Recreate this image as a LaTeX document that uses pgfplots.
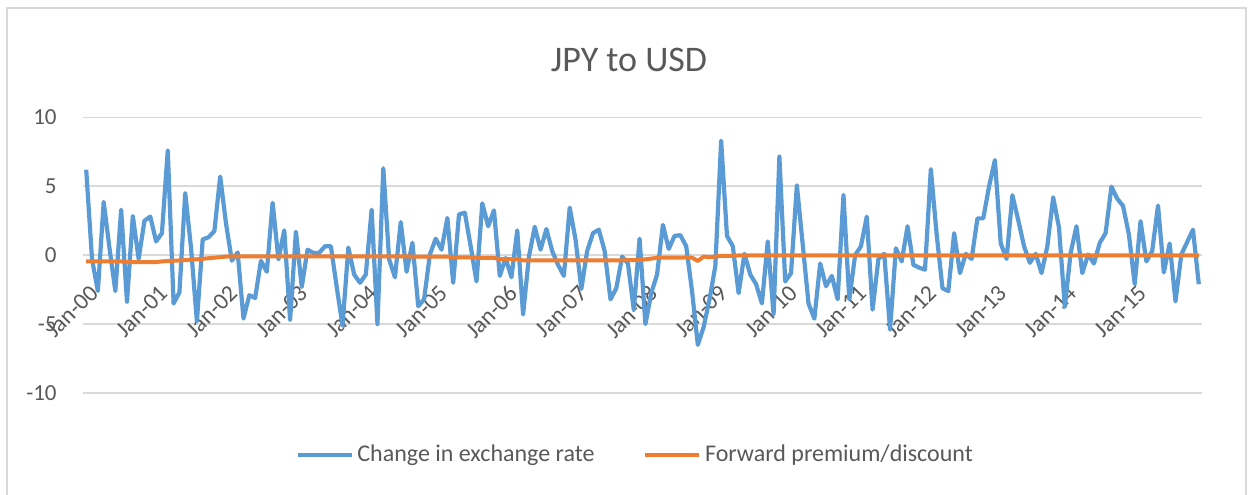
\documentclass[border=0pt]{standalone}
\usepackage{pgfplots}
\pgfplotsset{compat=1.18}
\usepackage{pgfplotstable}
\usepackage{fontspec}
\setmainfont{Carlito}
\definecolor{sblue}{HTML}{5B9BD5}
\definecolor{sorange}{HTML}{ED7D31}
\definecolor{gridgray}{HTML}{D9D9D9}
\definecolor{textgray}{HTML}{595959}
\pgfplotstableread{
i d f
0 6.2 -0.45
1 -0.3 -0.45
2 -2.6 -0.45
3 3.86 -0.45
4 0.5 -0.45
5 -2.6 -0.45
6 3.3 -0.45
7 -3.4 -0.5
8 2.84 -0.5
9 -0.27 -0.5
10 2.5 -0.5
11 2.8 -0.5
12 1.0 -0.5
13 1.6 -0.45
14 7.6 -0.42
15 -3.5 -0.4
16 -2.7 -0.38
17 4.5 -0.36
18 0.5 -0.32
19 -4.8 -0.3
20 1.15 -0.26
21 1.3 -0.22
22 1.75 -0.18
23 5.7 -0.14
24 2.3 -0.1
25 -0.4 -0.08
26 0.2 -0.08
27 -4.6 -0.08
28 -2.9 -0.08
29 -3.1 -0.08
30 -0.4 -0.08
31 -1.2 -0.08
32 3.8 -0.08
33 -0.3 -0.08
34 1.8 -0.08
35 -4.7 -0.08
36 1.7 -0.08
37 -2.3 -0.08
38 0.4 -0.08
39 0.17 -0.08
40 0.17 -0.08
41 0.65 -0.08
42 0.65 -0.08
43 -2.3 -0.08
44 -5.1 -0.08
45 0.55 -0.08
46 -1.4 -0.08
47 -2.0 -0.08
48 -1.4 -0.08
49 3.3 -0.08
50 -5.0 -0.08
51 6.3 -0.08
52 -0.3 -0.08
53 -1.6 -0.08
54 2.4 -0.08
55 -1.2 -0.08
56 0.9 -0.1
57 -3.7 -0.1
58 -3.2 -0.1
59 0.05 -0.1
60 1.2 -0.1
61 0.4 -0.1
62 2.7 -0.1
63 -2.0 -0.15
64 2.96 -0.15
65 3.08 -0.15
66 0.65 -0.15
67 -1.9 -0.2
68 3.76 -0.2
69 2.1 -0.2
70 3.25 -0.2
71 -1.5 -0.28
72 -0.2 -0.28
73 -1.6 -0.28
74 1.8 -0.28
75 -4.3 -0.38
76 -0.1 -0.38
77 2.06 -0.38
78 0.4 -0.38
79 1.9 -0.38
80 0.3 -0.38
81 -0.7 -0.38
82 -1.5 -0.38
83 3.45 -0.38
84 1.15 -0.38
85 -2.45 -0.38
86 0.3 -0.38
87 1.6 -0.38
88 1.85 -0.38
89 0.3 -0.38
90 -3.2 -0.38
91 -2.4 -0.38
92 -0.1 -0.38
93 -0.6 -0.35
94 -3.95 -0.35
95 1.2 -0.35
96 -5.0 -0.3
97 -2.75 -0.25
98 -1.4 -0.18
99 2.2 -0.18
100 0.46 -0.18
101 1.4 -0.18
102 1.45 -0.18
103 0.65 -0.16
104 -2.6 -0.18
105 -6.5 -0.42
106 -5.2 -0.1
107 -3.2 -0.15
108 -0.8 -0.1
109 8.3 -0.05
110 1.4 -0.05
111 0.65 -0.05
112 -2.75 -0.02
113 0.1 -0.02
114 -1.4 -0.02
115 -2.1 -0.02
116 -3.5 -0.02
117 1.0 -0.02
118 -4.3 -0.02
119 7.15 -0.02
120 -1.9 -0.02
121 -1.3 -0.02
122 5.07 -0.02
123 0.8 -0.02
124 -3.5 -0.02
125 -4.6 -0.02
126 -0.6 -0.02
127 -2.25 -0.02
128 -1.5 -0.02
129 -3.2 -0.02
130 4.37 -0.02
131 -3.2 -0.02
132 0.0 -0.02
133 0.65 -0.02
134 2.8 -0.02
135 -3.95 -0.02
136 -0.27 -0.02
137 0.1 -0.02
138 -5.4 -0.02
139 0.5 -0.02
140 -0.45 -0.02
141 2.1 -0.02
142 -0.7 -0.02
143 -0.9 -0.02
144 -1.05 -0.02
145 6.24 -0.02
146 1.5 -0.02
147 -2.4 -0.02
148 -2.6 -0.02
149 1.6 -0.02
150 -1.3 -0.02
151 0.1 -0.02
152 -0.27 -0.02
153 2.67 -0.02
154 2.67 -0.02
155 5.0 -0.02
156 6.9 -0.02
157 0.85 -0.02
158 -0.27 -0.02
159 4.35 -0.02
160 2.55 -0.02
161 0.65 -0.02
162 -0.55 -0.02
163 0.1 -0.02
164 -1.3 -0.02
165 0.65 -0.02
166 4.2 -0.02
167 2.0 -0.02
168 -3.75 -0.02
169 0.17 -0.02
170 2.1 -0.02
171 -1.3 -0.02
172 0.05 -0.02
173 -0.6 -0.02
174 0.9 -0.02
175 1.6 -0.02
176 4.97 -0.02
177 4.1 -0.02
178 3.57 -0.02
179 1.5 -0.02
180 -2.1 -0.02
181 2.47 -0.02
182 -0.45 -0.02
183 0.3 -0.02
184 3.6 -0.02
185 -1.25 -0.02
186 0.85 -0.02
187 -3.35 -0.02
188 0.05 -0.02
189 0.95 -0.02
190 1.85 -0.02
191 -2.1 -0.02
}\datatable
\begin{document}
\begin{tikzpicture}
\useasboundingbox (0,0) rectangle (626.5bp,247.5bp);
\fill[white] (0,0) rectangle (626.5bp,247.5bp);
\draw[gridgray, line width=0.75bp] (3.4bp,-1bp) -- (3.4bp,243.4bp) -- (623bp,243.4bp) -- (623bp,-1bp);
\node[font=\fontsize{18bp}{21bp}\selectfont, text=textgray] at (314.5bp,217.5bp) {JPY to USD};
\begin{axis}[
  at={(41.65bp,50.95bp)}, anchor=south west,
  scale only axis, width=559.2bp, height=137.9bp,
  xmin=-0.5, xmax=191.5, ymin=-10, ymax=10,
  enlargelimits=false,
  /pgf/number format/assume math mode=true,
  axis x line=middle, axis y line=left,
  x axis line style={-, draw=gridgray, line width=0.75bp},
  y axis line style={draw=none},
  ytick={-10,-5,0,5,10},
  yticklabels={-10,-5,0,5,10},
  ymajorgrids, grid style={gridgray, line width=0.75bp},
  ytick style={draw=none},
  yticklabel style={font=\fontsize{11.5bp}{13bp}\selectfont, text=textgray, inner sep=0pt, anchor=east, xshift=-11bp},
  xtick={0,12,...,180},
  xticklabels={Jan-00,Jan-01,Jan-02,Jan-03,Jan-04,Jan-05,Jan-06,Jan-07,Jan-08,Jan-09,Jan-10,Jan-11,Jan-12,Jan-13,Jan-14,Jan-15},
  xtick style={draw=none},
  xmajorgrids=false,
  xticklabel style={font=\fontsize{11.8bp}{13bp}\selectfont, text=textgray, xshift=1.25bp, yshift=-12bp, rotate=45, anchor=north east, inner sep=0pt},
  extra x ticks={-0.5,11.5,...,191.5},
  extra x tick labels={},
  extra x tick style={grid=none, tick style={draw=gridgray, line width=0.75bp}, major tick length=3.5bp, tick align=outside},
  legend columns=2,
  legend style={at={(0.4945,-0.2244)}, anchor=center, draw=none, fill=none,
    font=\fontsize{12bp}{14bp}\selectfont, text=textgray,
    /tikz/every even column/.append style={column sep=22.5bp},
    inner sep=0pt},
  legend image code/.code={\draw[#1, line width=1.8bp] (0bp,0bp) -- (27bp,0bp);},
  legend cell align=left,
]
\addplot[sblue, line width=2.1bp, line join=round, mark=none] table[x=i, y=d] {\datatable};
\addlegendentry{Change in exchange rate}
\addplot[sorange, line width=2bp, line join=round, mark=none] table[x=i, y=f] {\datatable};
\addlegendentry{Forward premium/discount}
\end{axis}
\end{tikzpicture}
\end{document}
